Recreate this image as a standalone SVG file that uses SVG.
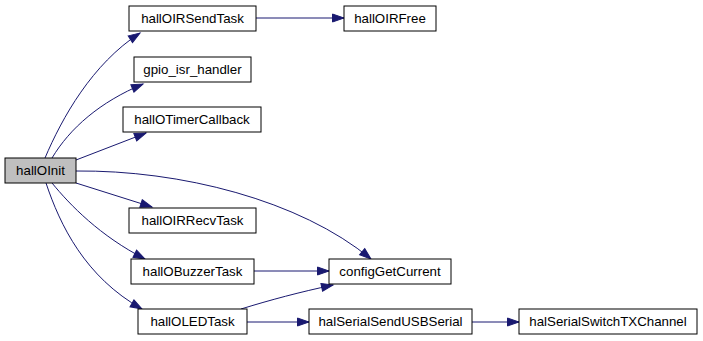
<svg xmlns="http://www.w3.org/2000/svg" width="703" height="341" viewBox="0 0 703 341">
  <style>
    .node rect { fill: #ffffff; stroke: #000000; stroke-width: 1; }
    .node.root rect { fill: #bfbfbf; }
    .node text { font-family: "Liberation Sans", Arial, Helvetica, sans-serif; font-size: 13.3px; fill: #000000; text-anchor: middle; }
    .edge { fill: none; stroke: #191970; stroke-width: 1; marker-end: url(#arrow); }
  </style>
  <defs>
    <marker id="arrow" markerUnits="userSpaceOnUse" markerWidth="14" markerHeight="11" refX="12" refY="4.5" orient="auto" overflow="visible">
      <path d="M0.5,0.5 L12,4.5 L0.5,8.5 Z" fill="#191970" stroke="#191970" stroke-width="1"/>
    </marker>
  </defs>
  <rect width="703" height="341" fill="#ffffff"/>

  <g id="edges">
    <path class="edge" d="M45,158 C62,118 92,64 140,33"/>
    <path class="edge" d="M52,158 C70,128 100,102 143,84"/>
    <path class="edge" d="M76,160 L146,133"/>
    <path class="edge" d="M76,171 C180,170 300,200 371,259"/>
    <path class="edge" d="M76,183 L152,207"/>
    <path class="edge" d="M52,183 C70,205 100,236 145,259"/>
    <path class="edge" d="M46,183 C60,225 85,277 142,309"/>
    <path class="edge" d="M256,18 L344,18"/>
    <path class="edge" d="M254,271 L329,271"/>
    <path class="edge" d="M241,309 C270,300 300,292 333,285"/>
    <path class="edge" d="M247,322 L309,322"/>
    <path class="edge" d="M472,322 L519,322"/>
  </g>

  <g id="hallOInit" class="node root">
    <rect x="5" y="158" width="71" height="25"/>
    <text x="40.5" y="175">hallOInit</text>
  </g>
  <g id="hallOIRSendTask" class="node">
    <rect x="129" y="6" width="127" height="25"/>
    <text x="192.5" y="23">hallOIRSendTask</text>
  </g>
  <g id="gpio_isr_handler" class="node">
    <rect x="134" y="57" width="117" height="25"/>
    <text x="192.5" y="74">gpio_isr_handler</text>
  </g>
  <g id="hallOTimerCallback" class="node">
    <rect x="123" y="107" width="138" height="25"/>
    <text x="192" y="124">hallOTimerCallback</text>
  </g>
  <g id="hallOIRRecvTask" class="node">
    <rect x="129" y="208" width="127" height="25"/>
    <text x="192.5" y="225">hallOIRRecvTask</text>
  </g>
  <g id="hallOBuzzerTask" class="node">
    <rect x="131" y="259" width="123" height="25"/>
    <text x="192.5" y="276">hallOBuzzerTask</text>
  </g>
  <g id="hallOLEDTask" class="node">
    <rect x="138" y="309" width="109" height="25"/>
    <text x="192.5" y="326">hallOLEDTask</text>
  </g>
  <g id="hallOIRFree" class="node">
    <rect x="344" y="6" width="92" height="25"/>
    <text x="390" y="23">hallOIRFree</text>
  </g>
  <g id="configGetCurrent" class="node">
    <rect x="329" y="259" width="122" height="25"/>
    <text x="390" y="276">configGetCurrent</text>
  </g>
  <g id="halSerialSendUSBSerial" class="node">
    <rect x="309" y="309" width="163" height="25"/>
    <text x="390.5" y="326">halSerialSendUSBSerial</text>
  </g>
  <g id="halSerialSwitchTXChannel" class="node">
    <rect x="519" y="309" width="178" height="25"/>
    <text x="608" y="326">halSerialSwitchTXChannel</text>
  </g>
</svg>
